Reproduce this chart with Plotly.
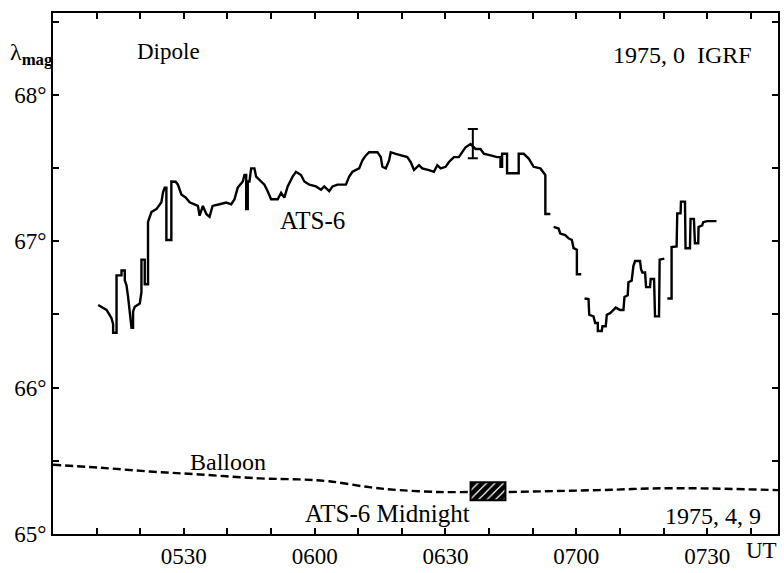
import plotly.graph_objects as go

# time in minutes after 05:00 UT, latitude in degrees (lambda_mag)
ats_seg1_t = [10.36, 11.43, 12.28, 13.42, 13.79, 13.79, 14.57, 14.57, 15.71, 15.71, 16.46, 16.46, 16.85, 17.22, 17.61, 18.00, 18.36, 18.36, 18.75, 19.90, 20.28, 20.28, 21.04, 21.04, 21.79, 21.79, 22.57, 23.71, 24.86, 25.22, 25.61, 26.00, 26.00, 27.14, 27.14, 28.13, 28.65, 29.43, 30.41, 31.33, 33.23, 33.62, 34.37, 35.15, 35.90, 36.59, 38.19, 39.72, 40.87, 41.62, 42.37, 43.52, 43.91, 44.30, 44.30, 44.66, 44.66, 45.05, 45.44, 46.19, 46.58, 47.73, 48.48, 49.23, 50.01, 51.52, 52.30, 53.05, 53.81, 54.95, 55.73, 56.87, 57.63, 58.77, 60.30, 61.45, 62.20, 63.34, 64.10, 65.24, 67.16, 67.92, 68.67, 70.20, 70.96, 71.74, 72.49, 74.39, 75.17, 75.53, 76.31, 77.07, 77.45, 78.60, 80.11, 81.25, 82.03, 82.78, 83.93, 84.68, 86.21, 87.36, 88.11, 88.89, 90.03, 90.79, 91.93, 93.07, 93.83, 94.61, 95.75, 96.89, 98.03, 98.79, 100.32, 101.83, 102.61, 102.61, 102.98, 102.98, 104.12, 104.12, 106.79, 106.79, 107.94, 109.08, 110.22, 111.76, 112.90, 112.90, 114.04]
ats_seg1_v = [66.565, 66.547, 66.531, 66.475, 66.433, 66.375, 66.375, 66.767, 66.767, 66.80, 66.80, 66.733, 66.70, 66.62, 66.52, 66.409, 66.409, 66.52, 66.553, 66.575, 66.653, 66.875, 66.875, 66.707, 66.707, 67.133, 67.20, 67.22, 67.267, 67.333, 67.367, 67.367, 67.009, 67.009, 67.409, 67.407, 67.387, 67.32, 67.30, 67.267, 67.242, 67.175, 67.242, 67.187, 67.167, 67.242, 67.253, 67.265, 67.253, 67.287, 67.367, 67.409, 67.453, 67.453, 67.22, 67.22, 67.409, 67.409, 67.498, 67.498, 67.442, 67.409, 67.387, 67.342, 67.287, 67.287, 67.331, 67.298, 67.375, 67.442, 67.475, 67.453, 67.409, 67.387, 67.375, 67.353, 67.375, 67.342, 67.375, 67.387, 67.387, 67.442, 67.475, 67.498, 67.553, 67.587, 67.609, 67.609, 67.575, 67.509, 67.498, 67.553, 67.609, 67.598, 67.587, 67.575, 67.542, 67.487, 67.52, 67.498, 67.487, 67.475, 67.52, 67.498, 67.509, 67.542, 67.575, 67.575, 67.609, 67.642, 67.665, 67.631, 67.631, 67.598, 67.587, 67.575, 67.575, 67.509, 67.509, 67.598, 67.598, 67.465, 67.465, 67.598, 67.598, 67.565, 67.509, 67.498, 67.453, 67.187, 67.187]

ats_seg2_t = [114.80, 115.94, 116.33, 117.47, 118.23, 118.99, 119.37, 120.13, 120.13, 121.13]
ats_seg2_v = [67.098, 67.087, 67.053, 67.042, 67.02, 67.009, 66.953, 66.942, 66.775, 66.775]

ats_seg3_t = [121.89, 122.80, 122.96, 123.94, 124.33, 124.93, 124.93, 125.84, 126.00, 126.76, 126.99, 127.76, 128.52, 129.05, 130.05, 130.81, 131.04, 131.79, 131.95, 132.70, 133.09, 133.48, 134.62, 134.85, 135.15, 135.77, 136.00, 136.91, 137.05, 137.83, 138.05, 138.97, 139.11, 140.18]
ats_seg3_v = [66.609, 66.605, 66.498, 66.487, 66.442, 66.442, 66.387, 66.387, 66.42, 66.42, 66.498, 66.509, 66.531, 66.547, 66.531, 66.531, 66.62, 66.631, 66.72, 66.731, 66.831, 66.865, 66.865, 66.809, 66.787, 66.787, 66.687, 66.687, 66.742, 66.742, 66.487, 66.487, 66.875, 66.882]

ats_seg4_t = [140.87, 141.85, 141.85, 143.00, 143.15, 143.91, 144.00, 144.92, 145.05, 146.06, 146.20, 146.97, 147.20, 147.96, 148.03, 148.87, 149.10, 150.01, 152.14]
ats_seg4_v = [66.609, 66.609, 66.96, 66.965, 67.191, 67.191, 67.271, 67.271, 66.953, 66.953, 67.153, 67.153, 66.987, 66.987, 67.098, 67.109, 67.131, 67.138, 67.138]

errbar_t = [96.27]
errbar_v = [67.668]
errbar_half = [0.10]

balloon_t = [0, 10.75, 22.18, 33.62, 47.34, 56.48, 63.34, 72.49, 79.35, 88.49, 95.36, None, 104.51, 125.09, 142.24, 166.25]
balloon_v = [65.473, 65.453, 65.427, 65.407, 65.38, 65.373, 65.36, 65.32, 65.30, 65.287, 65.287, None, 65.287, 65.30, 65.313, 65.30]

midnight_t = [99.75]
midnight_width = [8.0]
midnight_low = [65.231]
midnight_high = [65.353]

tick_vals = [30, 60, 90, 120, 150]
tick_text = ["0530", "0600", "0630", "0700", "0730"]

FONT = "Liberation Serif, Times New Roman, serif"

segs = [(ats_seg1_t, ats_seg1_v), (ats_seg2_t, ats_seg2_v), (ats_seg3_t, ats_seg3_v), (ats_seg4_t, ats_seg4_v)]
ats_t, ats_v = [], []
for st, sv in segs:
    if ats_t:
        ats_t.append(None)
        ats_v.append(None)
    ats_t += st
    ats_v += sv

fig = go.Figure()

fig.add_trace(go.Bar(
    x=midnight_t, y=[h - l for h, l in zip(midnight_high, midnight_low)], base=midnight_low,
    width=midnight_width,
    marker=dict(color="white", line=dict(color="black", width=2),
                pattern=dict(shape="/", fgcolor="black", bgcolor="white", size=6, solidity=0.8,
                             fillmode="replace")),
    hoverinfo="skip"))

fig.add_trace(go.Scatter(x=balloon_t, y=balloon_v, mode="lines",
                         line=dict(color="black", width=2.4, dash="8px,4px", shape="spline"),
                         connectgaps=False))

fig.add_trace(go.Scatter(x=ats_t, y=ats_v, mode="lines",
                         line=dict(color="black", width=2.4), connectgaps=False))

fig.add_trace(go.Scatter(x=errbar_t, y=errbar_v, mode="markers",
                         marker=dict(size=1, color="black"),
                         error_y=dict(type="data", array=errbar_half, color="black",
                                      thickness=2, width=5)))

ann_font = dict(family=FONT, size=23, color="black")
annotations = [
    dict(text="Dipole", x=26.5, y=68.30, xref="x", yref="y", showarrow=False, font=ann_font),
    dict(text="1975,\u00a00\u00a0\u00a0IGRF", x=144.3, y=68.275, xref="x", yref="y", showarrow=False,
         font=dict(family=FONT, size=24, color="black")),
    dict(text="ATS-6", x=59.5, y=67.14, xref="x", yref="y", showarrow=False,
         font=dict(family=FONT, size=25, color="black")),
    dict(text="Balloon", x=40.2, y=65.49, xref="x", yref="y", showarrow=False,
         font=dict(family=FONT, size=24, color="black")),
    dict(text="ATS-6\u00a0Midnight", x=76.8, y=65.14, xref="x", yref="y", showarrow=False,
         font=dict(family=FONT, size=25, color="black")),
    dict(text="1975,\u00a04,\u00a09", x=151.4, y=65.125, xref="x", yref="y", showarrow=False,
         font=dict(family=FONT, size=24, color="black")),
    dict(text="UT", x=162.4, y=0, xref="x", yref="paper", yanchor="top", yshift=-2,
         showarrow=False, font=dict(family=FONT, size=23, color="black")),
    dict(text="λ<sub><b>mag</b></sub>", x=-0.029, y=0.921, xref="paper", yref="paper",
         xanchor="center", yanchor="middle",
         showarrow=False, font=dict(family=FONT, size=24, color="black")),
]

fig.update_layout(
    width=784, height=573,
    margin=dict(l=53, r=4, t=13, b=26),
    paper_bgcolor="white", plot_bgcolor="white",
    showlegend=False,
    annotations=annotations,
    font=dict(family=FONT, size=23, color="black"),
)

fig.update_xaxes(
    range=[0, 166.25], showgrid=False, zeroline=False,
    showline=True, linecolor="black", linewidth=2, mirror="ticks",
    ticks="inside", ticklen=6, tickwidth=1.5, tickcolor="black",
    tickmode="array", tickvals=tick_vals, ticktext=tick_text,
    tickfont=dict(family=FONT, size=23, color="black"),
    minor=dict(ticks="inside", ticklen=6, tickwidth=1.5, tickcolor="black", dtick=10, tick0=0, showgrid=False),
)
fig.update_yaxes(
    range=[65.0, 68.56], showgrid=False, zeroline=False,
    showline=True, linecolor="black", linewidth=2, mirror="ticks",
    ticks="inside", ticklen=6, tickwidth=1.5, tickcolor="black",
    tickmode="linear", tick0=65, dtick=1, ticksuffix="°",
    tickfont=dict(family=FONT, size=23, color="black"),
    minor=dict(ticks="inside", ticklen=6, tickwidth=1.5, tickcolor="black", dtick=0.5, tick0=65, showgrid=False),
)

fig.write_html("out.html")
